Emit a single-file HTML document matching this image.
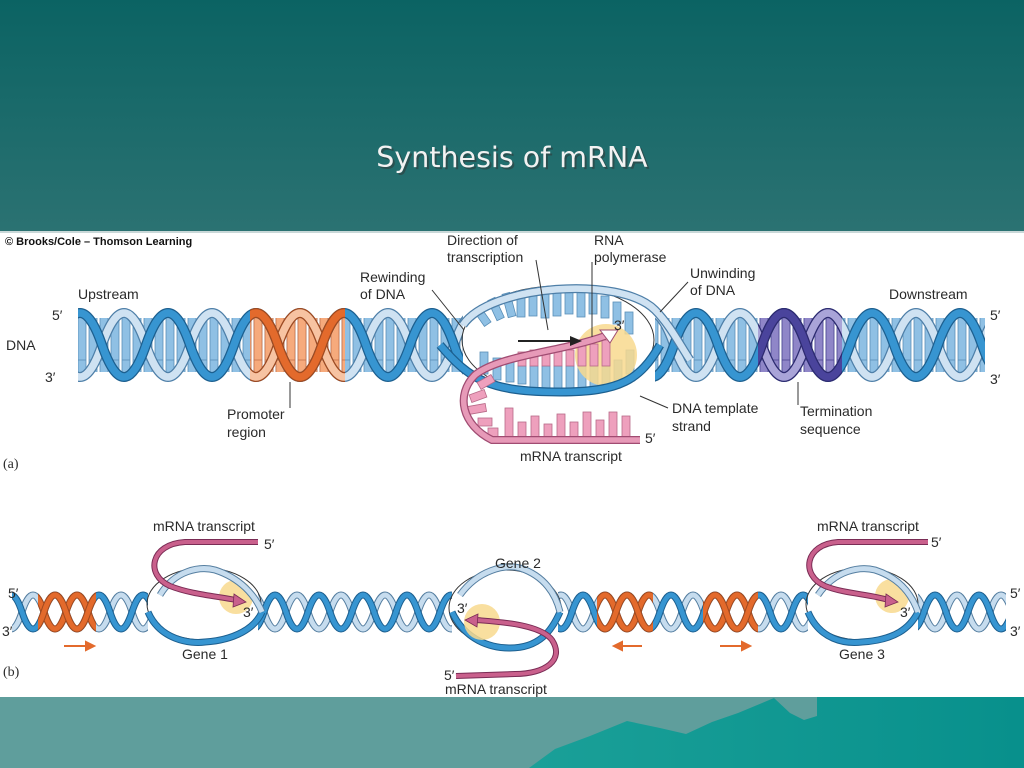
<!DOCTYPE html>
<html><head><meta charset="utf-8"><style>
html,body{margin:0;padding:0;width:1024px;height:768px;overflow:hidden;background:#fff}
svg{display:block}
text{font-family:"Liberation Sans",Arial,sans-serif;fill:#2a2a2a}
</style></head><body>
<svg width="1024" height="768" viewBox="0 0 1024 768" xmlns="http://www.w3.org/2000/svg">
<defs>
<linearGradient id="tg" x1="0" y1="0" x2="0" y2="1"><stop offset="0" stop-color="#0b6363"/><stop offset="1" stop-color="#2b7272"/></linearGradient>
<linearGradient id="mg" x1="0" y1="0" x2="1" y2="0"><stop offset="0" stop-color="#1aa098"/><stop offset="1" stop-color="#08908c"/></linearGradient>
<pattern id="rb" width="11" height="60" patternUnits="userSpaceOnUse"><rect x="1" y="0" width="8" height="60" fill="#8fc0e4" stroke="#5a8fb8" stroke-width="0.8"/></pattern>
<pattern id="ro" width="11" height="60" patternUnits="userSpaceOnUse"><rect x="1" y="0" width="8" height="60" fill="#f6aa7c" stroke="#c57048" stroke-width="0.8"/></pattern>
<pattern id="rp" width="11" height="60" patternUnits="userSpaceOnUse"><rect x="1" y="0" width="8" height="60" fill="#8f86c8" stroke="#4c4590" stroke-width="0.8"/></pattern>
<path id="TA" d="M-30 345 q22 -64 44 0 t44 0 t44 0 t44 0 t44 0 t44 0 t44 0 t44 0 t44 0 t44 0 t44 0 t44 0 t44 0 t44 0 t44 0 t44 0 t44 0 t44 0 t44 0 t44 0 t44 0 t44 0 t44 0 t44 0 t44 0"/>
<path id="TB" d="M-30 345 q22 64 44 0 t44 0 t44 0 t44 0 t44 0 t44 0 t44 0 t44 0 t44 0 t44 0 t44 0 t44 0 t44 0 t44 0 t44 0 t44 0 t44 0 t44 0 t44 0 t44 0 t44 0 t44 0 t44 0 t44 0 t44 0"/>
<path id="BA" d="M0 612 q11 -34 22 0 t22 0 t22 0 t22 0 t22 0 t22 0 t22 0 t22 0 t22 0 t22 0 t22 0 t22 0 t22 0 t22 0 t22 0 t22 0 t22 0 t22 0 t22 0 t22 0 t22 0 t22 0 t22 0 t22 0 t22 0 t22 0 t22 0 t22 0 t22 0 t22 0 t22 0 t22 0 t22 0 t22 0 t22 0 t22 0 t22 0 t22 0 t22 0 t22 0 t22 0 t22 0 t22 0 t22 0 t22 0 t22 0 t22 0"/>
<path id="BB" d="M0 612 q11 34 22 0 t22 0 t22 0 t22 0 t22 0 t22 0 t22 0 t22 0 t22 0 t22 0 t22 0 t22 0 t22 0 t22 0 t22 0 t22 0 t22 0 t22 0 t22 0 t22 0 t22 0 t22 0 t22 0 t22 0 t22 0 t22 0 t22 0 t22 0 t22 0 t22 0 t22 0 t22 0 t22 0 t22 0 t22 0 t22 0 t22 0 t22 0 t22 0 t22 0 t22 0 t22 0 t22 0 t22 0 t22 0 t22 0 t22 0"/>
<clipPath id="ct"><rect x="78" y="300" width="385" height="90"/><rect x="655" y="300" width="330" height="90"/></clipPath>
<clipPath id="cto"><rect x="250" y="300" width="95" height="90"/></clipPath>
<clipPath id="ctp"><rect x="758" y="300" width="84" height="90"/></clipPath>
<clipPath id="cb"><rect x="12" y="585" width="136" height="60"/><rect x="258" y="585" width="194" height="60"/><rect x="558" y="585" width="250" height="60"/><rect x="918" y="585" width="88" height="60"/></clipPath>
<clipPath id="cbo"><rect x="38" y="585" width="58" height="60"/><rect x="597" y="585" width="56" height="60"/><rect x="703" y="585" width="55" height="60"/></clipPath>
</defs>

<rect x="0" y="0" width="1024" height="231" fill="url(#tg)"/>
<rect x="0" y="231" width="1024" height="2" fill="#c9d8d8"/>
<rect x="0" y="697" width="1024" height="71" fill="#5f9e9c"/>
<path d="M529 768 L555 749 L590 736 L627 721 L660 728 L686 734 L712 722 L738 713 L774 698 L790 713 L804 720 L817 716 L817 697 L1024 697 L1024 768 Z" fill="url(#mg)"/>

<text x="512" y="167" text-anchor="middle" style="font-family:'DejaVu Sans',sans-serif;font-size:28.5px;fill:#333" opacity="0.5" transform="translate(2,2)">Synthesis of mRNA</text>
<text x="512" y="167" text-anchor="middle" style="font-family:'DejaVu Sans',sans-serif;font-size:28.5px;fill:#f2f2f2">Synthesis of mRNA</text>

<!-- panel (a) -->
<g clip-path="url(#ct)"><rect x="0" y="318" width="1024" height="54" fill="url(#rb)"/></g>
<g clip-path="url(#cto)"><rect x="0" y="318" width="1024" height="54" fill="url(#ro)"/></g>
<g clip-path="url(#ctp)"><rect x="0" y="318" width="1024" height="54" fill="url(#rp)"/></g>
<g clip-path="url(#ct)" fill="none">
<use href="#TB" stroke="#4e7fa8" stroke-width="10"/>
<use href="#TB" stroke="#cfe2f2" stroke-width="7.5"/>
<use href="#TA" stroke="#1c5f8f" stroke-width="10"/>
<use href="#TA" stroke="#3795d1" stroke-width="7.5"/>
</g>
<g clip-path="url(#cto)" fill="none">
<use href="#TB" stroke="#a04a20" stroke-width="10"/>
<use href="#TB" stroke="#f7c3a2" stroke-width="7.5"/>
<use href="#TA" stroke="#a04a20" stroke-width="10"/>
<use href="#TA" stroke="#e36a2c" stroke-width="7.5"/>
</g>
<g clip-path="url(#ctp)" fill="none">
<use href="#TB" stroke="#2e2a70" stroke-width="10"/>
<use href="#TB" stroke="#a9a4d8" stroke-width="7.5"/>
<use href="#TA" stroke="#2e2a70" stroke-width="10"/>
<use href="#TA" stroke="#4a449c" stroke-width="7.5"/>
</g>

<ellipse cx="558" cy="340" rx="96" ry="54" fill="none" stroke="#333" stroke-width="1"/>
<g stroke="#5a8fb8" stroke-width="0.8" fill="#8fc0e4">
<rect x="478" y="306" width="8" height="20" transform="rotate(-35 482 316)"/>
<rect x="492" y="298" width="8" height="22" transform="rotate(-25 496 309)"/>
<rect x="505" y="293" width="8" height="24" transform="rotate(-15 509 305)"/>
<rect x="517" y="291" width="8" height="26"/>
<rect x="529" y="290" width="8" height="26"/>
<rect x="541" y="290" width="8" height="28"/>
<rect x="553" y="290" width="8" height="26"/>
<rect x="565" y="290" width="8" height="24"/>
<rect x="577" y="291" width="8" height="26"/>
<rect x="589" y="292" width="8" height="22"/>
<rect x="601" y="296" width="8" height="22"/>
<rect x="613" y="302" width="8" height="22"/>
<rect x="625" y="312" width="8" height="22"/>
<rect x="480" y="352" width="8" height="22"/>
<rect x="493" y="358" width="8" height="22"/>
<rect x="506" y="362" width="8" height="20"/>
<rect x="518" y="366" width="8" height="18"/>
<rect x="530" y="366" width="8" height="22"/>
<rect x="542" y="366" width="8" height="22"/>
<rect x="554" y="366" width="8" height="22"/>
<rect x="566" y="366" width="8" height="22"/>
<rect x="578" y="366" width="8" height="22"/>
<rect x="590" y="366" width="8" height="22"/>
<rect x="602" y="366" width="8" height="22"/>
<rect x="614" y="360" width="8" height="24"/>
<rect x="626" y="350" width="8" height="24"/>
</g>
<circle cx="606" cy="355" r="31" fill="#f8d98e" opacity="0.85"/>
<g stroke="#b86a88" stroke-width="0.8" fill="#eea0bd">
<rect x="518" y="352" width="8" height="14"/><rect x="530" y="350" width="8" height="16"/><rect x="542" y="350" width="8" height="16"/><rect x="554" y="350" width="8" height="16"/><rect x="566" y="350" width="8" height="16"/><rect x="578" y="346" width="8" height="20"/><rect x="590" y="344" width="8" height="22"/><rect x="602" y="340" width="8" height="26"/>
</g>
<path d="M463 325 C490 285 620 275 655 310 C670 325 680 345 690 360" fill="none" stroke="#4e7fa8" stroke-width="9"/>
<path d="M463 325 C490 285 620 275 655 310 C670 325 680 345 690 360" fill="none" stroke="#cfe2f2" stroke-width="6.5"/>
<path d="M440 345 C470 380 490 392 560 392 C620 392 640 380 660 345" fill="none" stroke="#1c5f8f" stroke-width="9"/>
<path d="M440 345 C470 380 490 392 560 392 C620 392 640 380 660 345" fill="none" stroke="#3795d1" stroke-width="6.5"/>
<g stroke="#b86a88" stroke-width="0.8" fill="#eea0bd">
<rect x="505" y="408" width="8" height="30"/><rect x="518" y="422" width="8" height="16"/><rect x="531" y="416" width="8" height="22"/><rect x="544" y="424" width="8" height="14"/><rect x="557" y="414" width="8" height="24"/><rect x="570" y="422" width="8" height="16"/><rect x="583" y="412" width="8" height="26"/><rect x="596" y="420" width="8" height="18"/><rect x="609" y="412" width="8" height="26"/><rect x="622" y="416" width="8" height="22"/>
<rect x="470" y="392" width="16" height="8" transform="rotate(-20 478 396)"/><rect x="468" y="405" width="18" height="8" transform="rotate(-10 477 409)"/><rect x="478" y="418" width="14" height="8"/><rect x="488" y="428" width="10" height="10"/><rect x="478" y="378" width="16" height="8" transform="rotate(-30 486 382)"/>
</g>
<path d="M605 336 C560 352 500 355 475 375 C455 395 462 425 492 440 L640 440" fill="none" stroke="#a04c72" stroke-width="8"/>
<path d="M605 336 C560 352 500 355 475 375 C455 395 462 425 492 440 L640 440" fill="none" stroke="#e79ab8" stroke-width="5.5"/>
<path d="M600 330 L618 330 L610 343 Z" fill="#fff" stroke="#a04c72"/>
<line x1="518" y1="341" x2="572" y2="341" stroke="#222" stroke-width="2"/>
<path d="M570 336 L582 341 L570 346 Z" fill="#222"/>

<g stroke="#333" stroke-width="1" fill="none">
<line x1="290" y1="382" x2="290" y2="408"/>
<line x1="432" y1="290" x2="464" y2="330"/>
<line x1="536" y1="260" x2="548" y2="330"/>
<line x1="592" y1="262" x2="592" y2="337"/>
<line x1="688" y1="282" x2="660" y2="312"/>
<line x1="640" y1="396" x2="668" y2="408"/>
<line x1="798" y1="382" x2="798" y2="405"/>
</g>

<g font-size="14">
<text x="5" y="245" style="font-size:11px;font-weight:bold;fill:#111">© Brooks/Cole – Thomson Learning</text>
<text x="447" y="245">Direction of</text><text x="447" y="262">transcription</text>
<text x="594" y="245">RNA</text><text x="594" y="262">polymerase</text>
<text x="360" y="282">Rewinding</text><text x="360" y="299">of DNA</text>
<text x="690" y="278">Unwinding</text><text x="690" y="295">of DNA</text>
<text x="78" y="299">Upstream</text>
<text x="889" y="299">Downstream</text>
<text x="52" y="320">5′</text><text x="6" y="350">DNA</text><text x="45" y="382">3′</text>
<text x="990" y="320">5′</text><text x="990" y="384">3′</text>
<text x="614" y="330">3′</text>
<text x="227" y="419">Promoter</text><text x="227" y="437">region</text>
<text x="672" y="413">DNA template</text><text x="672" y="431">strand</text>
<text x="800" y="416">Termination</text><text x="800" y="434">sequence</text>
<text x="645" y="443">5′</text>
<text x="520" y="461">mRNA transcript</text>
<text x="3" y="468" style="font-family:'Liberation Serif',serif;font-size:14px">(a)</text>
</g>

<!-- panel (b) -->
<g clip-path="url(#cb)" fill="none">
<use href="#BB" stroke="#557ea0" stroke-width="7"/>
<use href="#BB" stroke="#c6dcee" stroke-width="5"/>
<use href="#BA" stroke="#1c5f8f" stroke-width="7"/>
<use href="#BA" stroke="#3795d1" stroke-width="5"/>
</g>
<g clip-path="url(#cbo)" fill="none">
<use href="#BB" stroke="#a04a20" stroke-width="7"/>
<use href="#BB" stroke="#e36a2c" stroke-width="5"/>
<use href="#BA" stroke="#a04a20" stroke-width="7"/>
<use href="#BA" stroke="#e36a2c" stroke-width="5"/>
</g>
<g fill="none">
<ellipse cx="204" cy="604" rx="57" ry="36" stroke="#333" stroke-width="1"/>
<ellipse cx="505" cy="608" rx="56" ry="38" stroke="#333" stroke-width="1"/>
<ellipse cx="862" cy="604" rx="56" ry="36" stroke="#333" stroke-width="1"/>
<path d="M148 612 C160 640 190 644 205 642 C235 640 255 628 262 612" stroke="#1c5f8f" stroke-width="7"/>
<path d="M148 612 C160 640 190 644 205 642 C235 640 255 628 262 612" stroke="#3795d1" stroke-width="5"/>
<path d="M452 612 C465 640 490 648 510 648 C540 648 552 630 560 612" stroke="#1c5f8f" stroke-width="7"/>
<path d="M452 612 C465 640 490 648 510 648 C540 648 552 630 560 612" stroke="#3795d1" stroke-width="5"/>
<path d="M808 612 C820 640 845 644 862 642 C895 640 910 628 918 612" stroke="#1c5f8f" stroke-width="7"/>
<path d="M808 612 C820 640 845 644 862 642 C895 640 910 628 918 612" stroke="#3795d1" stroke-width="5"/>
</g>
<circle cx="236" cy="597" r="17" fill="#f8d98e" opacity="0.85"/>
<circle cx="482" cy="622" r="18" fill="#f8d98e" opacity="0.85"/>
<circle cx="892" cy="596" r="17" fill="#f8d98e" opacity="0.85"/>
<g fill="none">
<path d="M160 595 C175 570 200 566 215 570 C240 578 255 595 262 612" stroke="#557ea0" stroke-width="7"/>
<path d="M160 595 C175 570 200 566 215 570 C240 578 255 595 262 612" stroke="#c6dcee" stroke-width="5"/>
<path d="M460 595 C478 570 505 564 520 568 C545 576 556 595 560 612" stroke="#557ea0" stroke-width="7"/>
<path d="M460 595 C478 570 505 564 520 568 C545 576 556 595 560 612" stroke="#c6dcee" stroke-width="5"/>
<path d="M818 595 C835 570 860 566 875 570 C900 578 912 595 918 612" stroke="#557ea0" stroke-width="7"/>
<path d="M818 595 C835 570 860 566 875 570 C900 578 912 595 918 612" stroke="#c6dcee" stroke-width="5"/>
<path d="M258 542 L185 542 C150 544 145 575 170 586 C190 594 215 596 236 600" stroke="#7a2c55" stroke-width="6"/>
<path d="M258 542 L185 542 C150 544 145 575 170 586 C190 594 215 596 236 600" stroke="#c9608c" stroke-width="4"/>
<path d="M476 620 C500 622 540 624 552 640 C565 660 545 674 515 674 L456 676" stroke="#7a2c55" stroke-width="6"/>
<path d="M476 620 C500 622 540 624 552 640 C565 660 545 674 515 674 L456 676" stroke="#c9608c" stroke-width="4"/>
<path d="M928 542 L838 542 C805 544 800 575 825 586 C845 594 870 594 888 600" stroke="#7a2c55" stroke-width="6"/>
<path d="M928 542 L838 542 C805 544 800 575 825 586 C845 594 870 594 888 600" stroke="#c9608c" stroke-width="4"/>
</g>
<path d="M234 594 L246 602 L233 607 Z" fill="#c9608c" stroke="#7a2c55" stroke-width="0.8"/>
<path d="M478 614 L465 620 L477 627 Z" fill="#c9608c" stroke="#7a2c55" stroke-width="0.8"/>
<path d="M886 594 L898 602 L885 607 Z" fill="#c9608c" stroke="#7a2c55" stroke-width="0.8"/>
<g stroke="#e36a2c" stroke-width="2" fill="#e36a2c">
<line x1="64" y1="646" x2="88" y2="646"/><path d="M86 642 L94 646 L86 650 Z"/>
<line x1="620" y1="646" x2="642" y2="646"/><path d="M622 642 L614 646 L622 650 Z"/>
<line x1="720" y1="646" x2="744" y2="646"/><path d="M742 642 L750 646 L742 650 Z"/>
</g>
<g font-size="14">
<text x="153" y="531">mRNA transcript</text><text x="264" y="549">5′</text>
<text x="495" y="568">Gene 2</text>
<text x="817" y="531">mRNA transcript</text><text x="931" y="547">5′</text>
<text x="8" y="598">5′</text><text x="2" y="636">3′</text>
<text x="243" y="617">3′</text><text x="457" y="613">3′</text><text x="900" y="617">3′</text>
<text x="1010" y="598">5′</text><text x="1010" y="636">3′</text>
<text x="182" y="659">Gene 1</text><text x="839" y="659">Gene 3</text>
<text x="444" y="680">5′</text><text x="445" y="694">mRNA transcript</text>
<text x="3" y="676" style="font-family:'Liberation Serif',serif;font-size:14px">(b)</text>
</g>
</svg>
</body></html>
